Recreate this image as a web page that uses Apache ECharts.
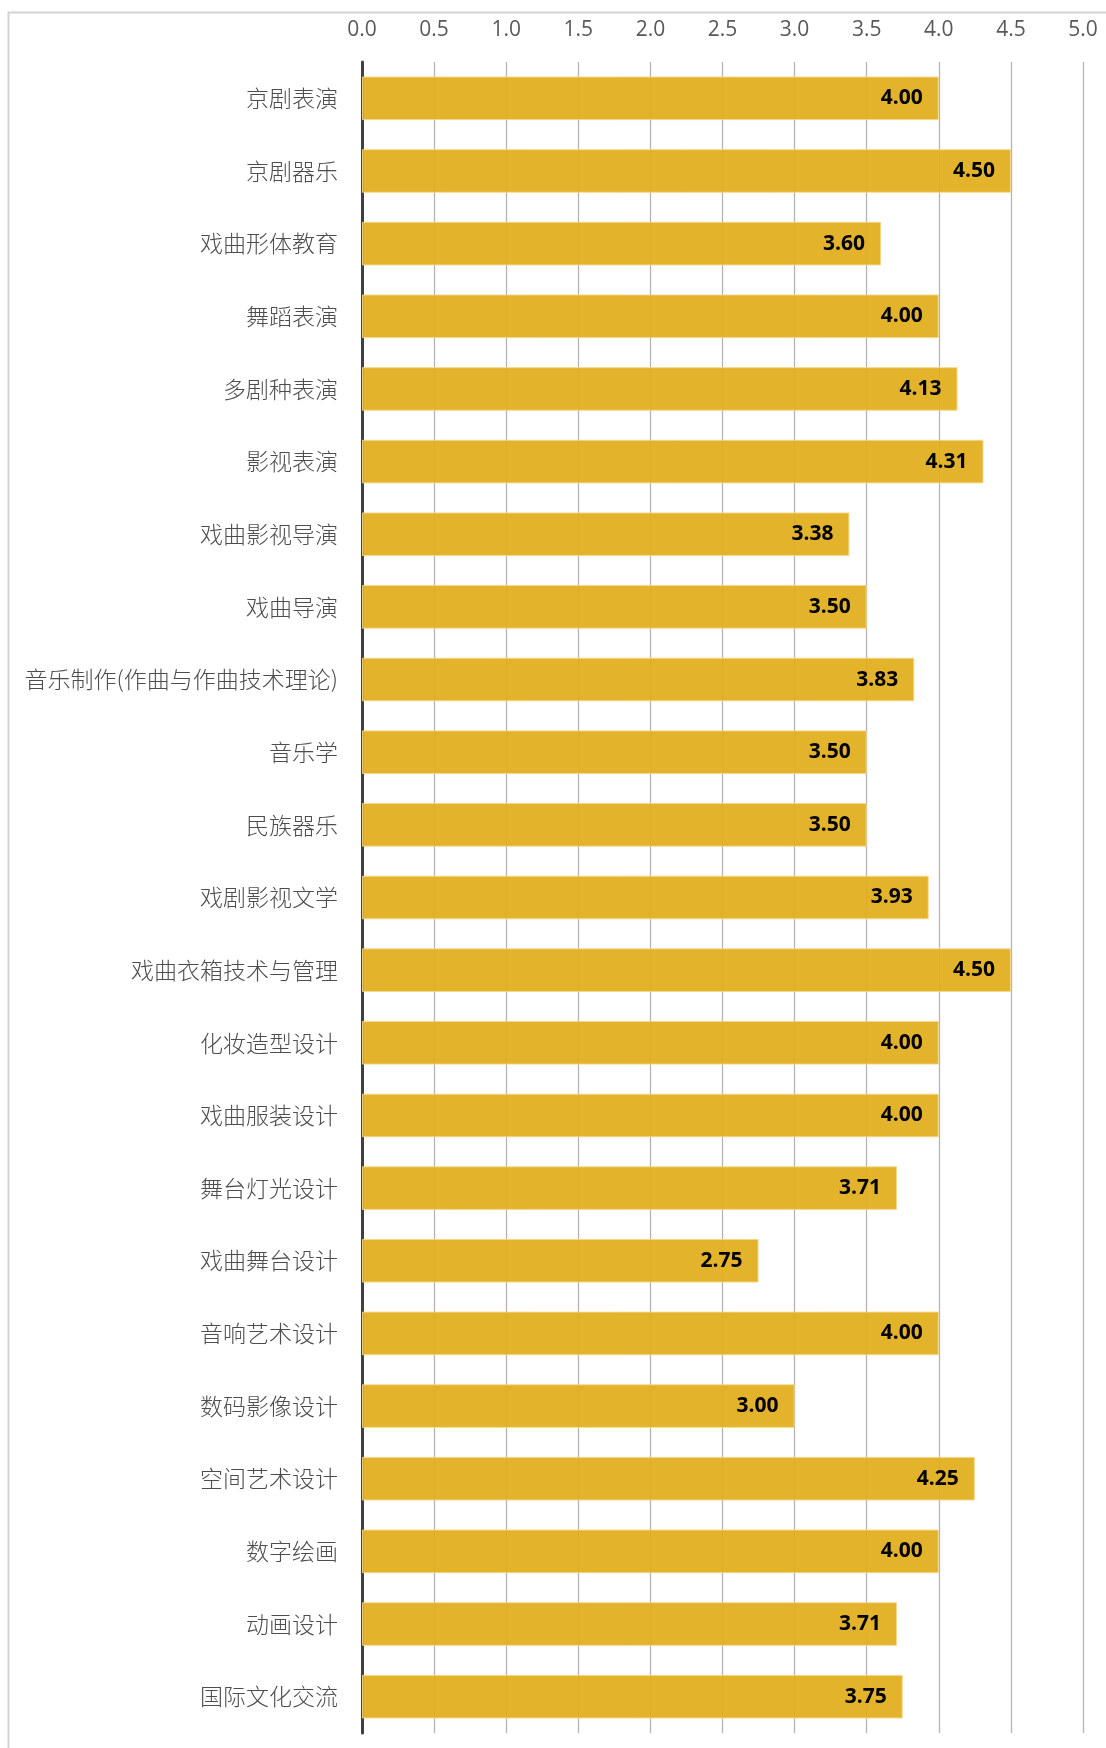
<!DOCTYPE html>
<html><head><meta charset="utf-8">
<script src="https://cdn.jsdelivr.net/npm/echarts@6/dist/echarts.min.js"></script>
<style>html,body{margin:0;padding:0;background:#fff}#c{width:1106px;height:1748px}</style>
</head><body><div id="c"></div>
<script>
const categories = ["京剧表演","京剧器乐","戏曲形体教育","舞蹈表演","多剧种表演","影视表演","戏曲影视导演","戏曲导演","音乐制作(作曲与作曲技术理论)","音乐学","民族器乐","戏剧影视文学","戏曲衣箱技术与管理","化妆造型设计","戏曲服装设计","舞台灯光设计","戏曲舞台设计","音响艺术设计","数码影像设计","空间艺术设计","数字绘画","动画设计","国际文化交流"];
const values = [4.00,4.50,3.60,4.00,4.13,4.31,3.38,3.50,3.83,3.50,3.50,3.93,4.50,4.00,4.00,3.71,2.75,4.00,3.00,4.25,4.00,3.71,3.75];
const xMin = 0, xMax = 5, xStep = 0.5;

const chart = echarts.init(document.getElementById('c'), null, {renderer:'canvas'});
chart.setOption({
  animation:false,
  backgroundColor:'#fff',
  graphic:[{type:'rect',shape:{x:8.5,y:12.5,width:1200,height:1800},style:{fill:'none',stroke:'#d4d4d4',lineWidth:2},z:-1}],
  grid:{left:362,right:23,top:62,bottom:15,containLabel:false},
  xAxis:{type:'value',position:'top',min:xMin,max:xMax,interval:xStep,
    axisLine:{show:false},axisTick:{show:false},
    axisLabel:{margin:21,color:'#595959',fontSize:21,fontFamily:'Open Sans, sans-serif',formatter:v=>v.toFixed(1)},
    splitLine:{show:true,lineStyle:{color:'#b4b4b4',width:1.3}}},
  yAxis:{type:'category',data:categories,inverse:true,
    axisLine:{show:true,onZero:false,lineStyle:{color:'#404040',width:3}},
    axisTick:{show:false},
    axisLabel:{margin:24,color:'#4d4d4d',fontSize:23,fontWeight:300,fontFamily:'Noto Sans CJK SC, sans-serif'}},
  series:[{type:'bar',data:values,barCategoryGap:'40%',
    itemStyle:{color:'rgba(225,172,25,0.92)',borderColor:'rgba(245,215,140,0.9)',borderWidth:1},
    label:{show:true,position:'insideRight',distance:16,color:'#000',fontWeight:'bold',fontSize:21,fontFamily:'Open Sans, sans-serif',formatter:p=>p.value.toFixed(2)}}]
});
</script></body></html>
